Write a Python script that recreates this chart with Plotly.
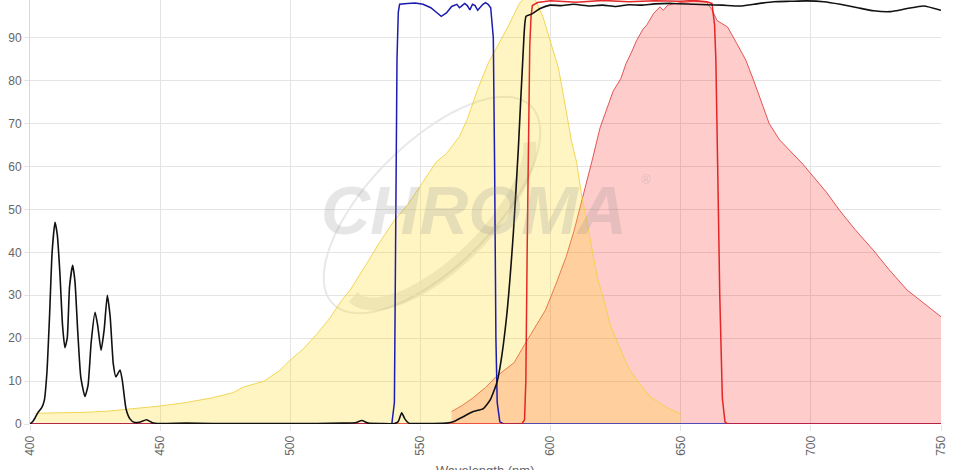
import numpy as np
import plotly.graph_objects as go

# --- data (wavelength nm / transmission %) ---
yellow_wl = [402, 405, 410, 420, 430, 440, 450, 460, 470, 478, 482, 490, 496, 500, 505, 510,
             515, 520, 523, 530, 534, 540, 545, 550, 556, 560, 565, 568, 572, 576, 580, 584,
             588, 591, 594, 597, 600, 603, 606, 608, 610, 612, 614, 616, 618, 620, 623, 626,
             630, 634, 638, 642, 646, 650]
yellow_val = [2.5, 2.6, 2.6, 2.7, 3.0, 3.6, 4.2, 5.0, 6.1, 7.3, 8.6, 10.0, 12.5, 14.9, 17.5, 20.8,
              24.5, 29.0, 31.2, 38.0, 42.0, 47.5, 51.0, 55.5, 61.0, 63.0, 67.0, 71.0, 78.0, 84.0, 88.5, 93.0,
              98.0, 100.0, 99.0, 95.0, 89.0, 83.0, 73.0, 66.0, 61.0, 53.0, 47.0, 40.0, 34.0, 30.0, 23.0, 18.5,
              13.0, 9.5, 6.5, 4.8, 3.4, 2.4]

pink_wl = [562, 566, 570, 575, 579, 583, 586, 590, 594, 598, 602, 606, 609, 612.5, 616, 619,
           622, 624, 627, 629, 631, 633, 635.5, 637, 639.5, 642, 643.3, 645, 650, 655, 660, 662,
           664, 668, 671.5, 675, 678, 681, 684, 688, 693, 697, 701, 706, 711, 717, 724, 730,
           737, 744, 750]
pink_val = [2.9, 4.3, 6.0, 8.5, 11.0, 12.8, 14.3, 18.5, 22.5, 26.5, 32.5, 39.0, 45.0, 53.0, 61.5, 69.0,
            74.0, 77.5, 80.5, 84.0, 86.5, 89.3, 92.0, 93.0, 95.6, 97.2, 96.4, 97.6, 98.2, 98.5, 98.3, 96.5,
            94.0, 92.5, 88.7, 84.8, 80.1, 75.0, 70.0, 66.2, 63.1, 60.5, 57.6, 54.0, 49.8, 45.3, 40.5, 36.0,
            31.2, 27.8, 25.0]

blue_wl = [400, 539, 540, 540.5, 541, 541.5, 542, 545, 548, 551, 554, 556, 558, 560, 562, 564,
           565, 566, 567, 568, 569, 570, 571, 572, 574, 575, 576, 577, 578, 578.5, 579, 579.5,
           580.5, 582, 750]
blue_val = [0, 0, 5, 40, 85, 96, 97.8, 98.0, 98.1, 97.8, 97.0, 96.0, 95.0, 95.8, 97.3, 97.8,
            97.0, 97.5, 98.0, 97.5, 96.5, 97.8, 97.5, 96.4, 97.8, 98.2, 97.8, 97.0, 90.0, 60.0, 20.0, 5.0,
            0.5, 0, 0]

red_wl = [400, 589, 590, 590.5, 591, 591.5, 592, 592.5, 593, 595, 600, 610, 620, 630, 640, 650,
          655, 660, 662, 663, 663.5, 664.2, 665, 666, 667, 668, 750]
red_val = [0, 0, 1, 10, 40, 70, 88, 95, 97.5, 98.2, 98.6, 98.3, 98.7, 98.4, 98.6, 98.5,
           98.7, 98.4, 98.0, 93.0, 85.0, 60.0, 30.0, 6.0, 0.5, 0, 0]

black_wl = [400, 401, 402, 403, 404.5, 405.5, 406.5, 407.5, 408.5, 409.6, 410.5, 411.5, 412.5, 413.4,
            414.3, 415.2, 416.4, 417.3, 418.3, 419.5, 421.1, 422.3, 423.5, 425, 426, 427.3, 428.5,
            429.7, 430.8, 432, 433, 434.6, 435.5, 436.9, 438.4, 440, 442, 444.8, 447, 450, 460, 470,
            480, 490, 500, 510, 520, 525, 527.5, 530, 535, 540, 541.5, 542.8, 544, 545.5, 550, 555,
            560, 562.6, 566.4, 570.3, 574.2, 576.8, 579.3, 580.6, 583.1, 585.7, 587.6, 589.5, 590.6,
            592.7, 596, 599.8, 604, 608.8, 615, 620, 625, 630, 635, 640, 647, 655, 660, 666, 672.8,
            678, 685.6, 692, 698.4, 705, 711.3, 718, 724.1, 730.5, 737, 743.3, 750]
black_val = [0, 0.5, 1.5, 2.6, 3.8, 5.5, 12, 25, 40, 47, 44, 35, 23, 17.8,
             20, 32, 37, 33, 22, 11, 6.4, 9, 19, 26, 23, 17.2, 22,
             30, 25, 14, 11, 12.6, 10, 3.5, 1.2, 0.4, 0.4, 1.0, 0.3, 0.1, 0.2, 0.1,
             0.1, 0.1, 0.1, 0.1, 0.2, 0.3, 0.8, 0.2, 0.1, 0.1, 0.6, 2.6, 1.2, 0.2, 0.1, 0.1,
             0.2, 0.5, 1.7, 2.9, 3.6, 5.6, 9.5, 13.3, 25, 44.5, 64, 87, 95,
             95.5, 96.8, 97.6, 97.5, 97.8, 97.4, 97.6, 97.3, 97.7, 97.6, 97.9, 98.0, 97.8, 97.7, 97.6, 97.4,
             97.8, 98.4, 98.5, 98.6, 98.4, 97.8, 97.0, 96.3, 96.1, 96.8, 97.4, 96.4]

x_ticks = [400, 450, 500, 550, 600, 650, 700, 750]

W, H = 957, 470
ML, MR, MT, MB = 30, 16, 0, 46
PW, PH = W - ML - MR, H - MT - MB

fig = go.Figure()

# Спектры с заливкой
fig.add_trace(go.Scatter(x=pink_wl, y=pink_val, mode="lines", fill="tozeroy",
                         fillcolor="rgba(255,0,0,0.2)",
                         line=dict(color="rgba(220,60,60,0.85)", width=1)))
fig.add_trace(go.Scatter(x=yellow_wl, y=yellow_val, mode="lines", fill="tozeroy",
                         fillcolor="rgba(255,220,40,0.28)",
                         line=dict(color="rgba(240,210,70,0.9)", width=1)))

# Фильтры
fig.add_trace(go.Scatter(x=blue_wl, y=blue_val, mode="lines",
                         line=dict(color="#1c1cb0", width=1.5)))
fig.add_trace(go.Scatter(x=red_wl, y=red_val, mode="lines",
                         line=dict(color="rgba(225,20,20,0.9)", width=1.5)))
fig.add_trace(go.Scatter(x=black_wl, y=black_val, mode="lines",
                         line=dict(color="#111111", width=1.6, shape="spline", smoothing=0.5)))


# Водяной знак CHROMA: эллипс-кольцо
def to_paper(px, py):
    return (px - ML) / PW, (H - MB - py) / PH


def ellipse_path(cx, cy, a, b, ang, t0=0, t1=2 * np.pi, n=80):
    t = np.linspace(t0, t1, n)
    c, s = np.cos(ang), np.sin(ang)
    xs = cx + a * np.cos(t) * c - b * np.sin(t) * s
    ys = cy + a * np.cos(t) * s + b * np.sin(t) * c
    pts = [to_paper(x, y) for x, y in zip(xs, ys)]
    return "M " + " L ".join(f"{x:.4f},{y:.4f}" for x, y in pts)


ang = np.deg2rad(-45)
fig.add_shape(type="path", xref="paper", yref="paper", layer="below",
              path=ellipse_path(432, 205, 140, 62, ang),
              line=dict(color="rgba(150,150,150,0.22)", width=2))
fig.add_shape(type="path", xref="paper", yref="paper", layer="below",
              path=ellipse_path(438, 212, 120, 50, ang, 0.1 * np.pi, 1.0 * np.pi),
              line=dict(color="rgba(150,150,150,0.2)", width=13))

fig.add_annotation(x=to_paper(474, 210)[0], y=to_paper(474, 210)[1], xref="paper", yref="paper",
                   text="<b><i>CHROMA</i></b>", showarrow=False, borderpad=0,
                   font=dict(family="Liberation Sans", size=68, color="rgba(140,140,140,0.22)"))
fig.add_annotation(x=to_paper(640, 179)[0], y=to_paper(640, 179)[1], xref="paper", yref="paper",
                   text="®", showarrow=False, borderpad=0, xanchor="left",
                   font=dict(family="Liberation Sans", size=13, color="rgba(140,140,140,0.3)"))

# подпись оси X (частично обрезана снизу, как в оригинале)
fig.add_annotation(x=0.5, y=to_paper(0, 461)[1], xref="paper", yref="paper",
                   text="Wavelength (nm)", showarrow=False, yanchor="top",
                   font=dict(size=13, color="#666666"))

fig.update_layout(
    width=W, height=H,
    margin=dict(l=ML, r=MR, t=MT, b=MB, autoexpand=False),
    plot_bgcolor="white", paper_bgcolor="white",
    showlegend=False,
    font=dict(family="Liberation Sans, Arial", size=12, color="#666666"),
)
fig.update_xaxes(range=[400, 750], tickvals=x_ticks, tickangle=-90,
                 showgrid=True, gridcolor="#e4e4e4", gridwidth=1,
                 ticks="outside", ticklen=6, tickcolor="#e4e4e4",
                 zeroline=False, showline=False, automargin=False)
fig.update_yaxes(range=[0, 98.8], dtick=10, showgrid=True, gridcolor="#e4e4e4", gridwidth=1,
                 ticks="outside", ticklen=5, tickcolor="#e4e4e4",
                 zeroline=False, showline=True, linecolor="#d8d8d8", automargin=False)

fig.write_html("out.html", config={"displayModeBar": False},
               post_script="document.body.style.margin='0';")
